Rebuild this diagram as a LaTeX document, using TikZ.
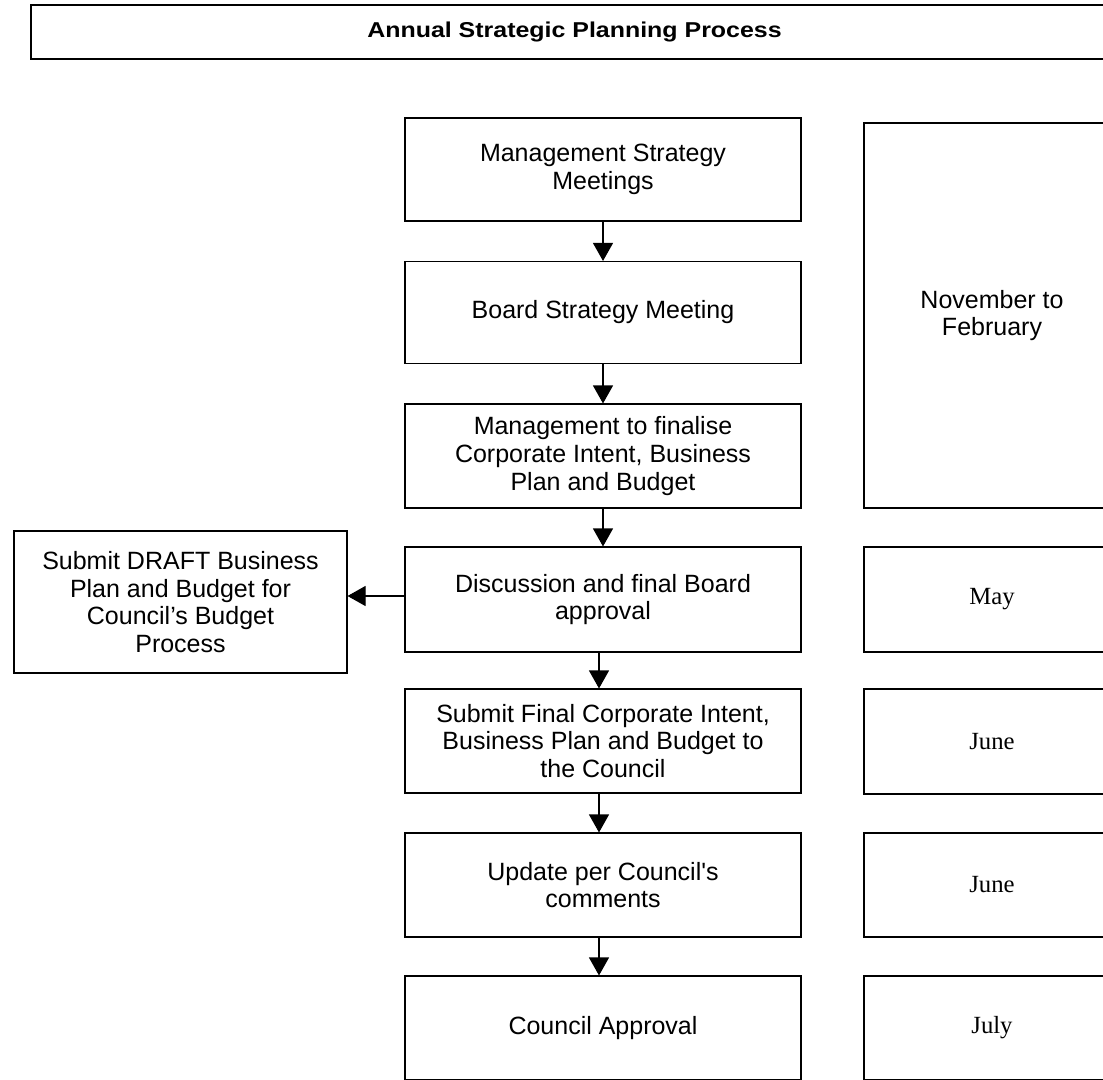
\documentclass[tikz,border=0pt]{standalone}
\usepackage{fontspec}
\usetikzlibrary{arrows.meta}
\setmainfont[Ligatures=TeXOff]{Liberation Sans}
\newfontfamily\titlefont[FakeStretch=1.16]{Liberation Sans}
\newfontfamily\monthfont{Liberation Serif}

\tikzset{
  box/.style={draw=black, line width=1.1pt, rectangle, inner sep=0pt,
    align=center, font=\fontsize{25}{27.7}\selectfont},
  stepbox/.style={box, minimum width=396pt},
  monthbox/.style={box, minimum width=256pt,
    font=\monthfont\fontsize{24.7}{27.7}\selectfont},
  arr/.style={line width=1.1pt, -{Triangle[length=18pt,width=20pt]}},
}

\begin{document}
\begin{tikzpicture}[x=1pt, y=-1pt]
\useasboundingbox (0,0) rectangle (1103,1079);
\clip (0,0) rectangle (1103,1079);

% heading bar
\node[box, minimum width=1087pt, minimum height=54pt,
  font=\titlefont\bfseries\fontsize{21.5}{25}\selectfont]
  (title) at (574.5,32) {Annual Strategic Planning Process};

% main sequence of steps
\node[stepbox, minimum height=103pt] (b1) at (603,169.5) {Management Strategy\\Meetings};
\node[stepbox, minimum height=102pt] (b2) at (603,312.5) {Board Strategy Meeting};
\node[stepbox, minimum height=104pt] (b3) at (603,456) {Management to finalise\\Corporate Intent, Business\\Plan and Budget};
\node[stepbox, minimum height=105pt] (b4) at (603,599.5) {Discussion and final Board\\approval};
\node[stepbox, minimum height=104pt] (b5) at (603,741) {Submit Final Corporate Intent,\\Business Plan and Budget to\\the Council};
\node[stepbox, minimum height=104pt] (b6) at (603,885) {Update per Council's\\comments};
\node[stepbox, minimum height=104pt] (b7) at (603,1028) {Council Approval};

% side branch
\node[box, minimum width=333pt, minimum height=142pt] (draft) at (180.5,602)
  {Submit DRAFT Business\\Plan and Budget for\\Council’s Budget\\Process};

% timing column
\node[box, minimum width=256pt, minimum height=385pt] (r1) at (992,315.5) {November to\\February};
\node[monthbox, minimum height=105pt] (r2) at (992,599.5) {May};
\node[monthbox, minimum height=105pt] (r3) at (992,741.5) {June};
\node[monthbox, minimum height=104pt] (r4) at (992,885) {June};
\node[monthbox, minimum height=104pt] (r5) at (992,1028) {July};

% connectors
\draw[arr] (b1.south) -- (b2.north);
\draw[arr] (b2.south) -- (b3.north);
\draw[arr] (b3.south) -- (b4.north);
\draw[arr] ([xshift=-4pt]b4.south) -- ([xshift=-4pt]b5.north);
\draw[arr] ([xshift=-4pt]b5.south) -- ([xshift=-4pt]b6.north);
\draw[arr] ([xshift=-4pt]b6.south) -- ([xshift=-4pt]b7.north);
\draw[arr] ([yshift=3.5pt]b4.west) -- ([yshift=3.5pt]b4.west -| draft.east);
\end{tikzpicture}
\end{document}
